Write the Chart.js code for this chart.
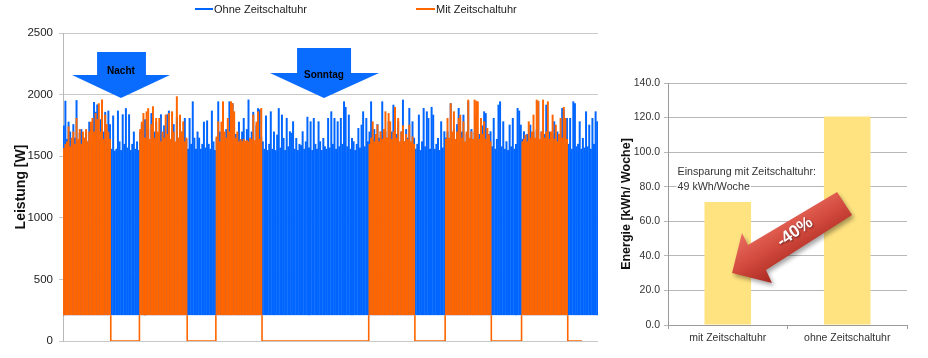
<!DOCTYPE html>
<html><head><meta charset="utf-8">
<script src="https://cdn.jsdelivr.net/npm/chart.js@4.4.1/dist/chart.umd.min.js"></script>
<style>
html,body{margin:0;padding:0;background:#fff;}
#wrap{position:relative;width:928px;height:358px;overflow:hidden;font-family:"Liberation Sans",Arial,sans-serif;}
canvas{position:absolute;top:0;}
#c1{left:0}
#c2{left:600px}
.lgl{position:absolute;top:8px;height:2px;}
.lgt{position:absolute;top:2px;font-size:11px;line-height:14px;color:#222;white-space:nowrap;}
</style></head><body>
<div id="wrap">
<canvas id="c1" width="605" height="358"></canvas>
<canvas id="c2" width="328" height="358"></canvas>
<div class="lgl" style="left:195px;width:18px;background:#0066ff"></div>
<div class="lgt" style="left:214px">Ohne Zeitschaltuhr</div>
<div class="lgl" style="left:416px;width:19px;background:#ff6600"></div>
<div class="lgt" style="left:436px">Mit Zeitschaltuhr</div>
</div>
<script>
// ---- Leistung, halbstündliche Spitzenwerte [W] über eine Woche ----
const ohneWatt = [
 1750,1950,1640,1780,1700,1600,1760,1650,1955,1620,1690,1720,1600,1650,1700,1620,1780,1600,1750,1940,1860,1920,1640,1800,1890,1700,1860,1620,1870,1760,
 1560,1830,1545,1560,1870,1620,1550,1840,1600,1890,1570,1840,1550,1600,1700,1560,1620,1550,
 1700,1760,1620,1800,1650,1720,1600,1850,1640,1700,1780,1620,1690,1840,1600,1750,1660,1840,1870,1620,1700,1760,1600,1820,1650,1800,1700,1620,1810,1640,
 1560,1810,1600,1945,1650,1560,1700,1650,1560,1600,1780,1570,1790,1600,1560,1870,1620,1550,
 1650,1945,1700,1620,1890,1640,1720,1600,1945,1700,1930,1620,1680,1600,1780,1640,1700,1810,1600,1720,1960,1640,1700,1860,1600,1750,1890,1880,1660,
 1620,1560,1830,1550,1600,1864,1560,1700,1550,1675,1890,1570,1837,1648,1550,1810,1580,1702,1690,1783,1560,1648,1550,1600,1590,1702,1560,1620,1820,1570,1783,1550,1810,1600,1560,1783,1621,1550,1648,1580,1560,1810,1570,1864,1600,1810,1560,1783,1580,1810,1600,1945,1900,1580,1837,1560,1648,1621,1550,1600,1729,1570,1756,1864,1580,1810,1621,
 1700,1945,1640,1720,1600,1760,1650,1700,1945,1620,1700,1650,1783,1600,1700,1918,1640,1680,1783,1600,1700,1959,1620,1720,1650,1891,1600,1783,1650,
 1560,1600,1837,1550,1620,1891,1580,1864,1810,1560,1900,1837,1560,1600,1648,1550,1783,1570,1702,
 1650,1700,1620,1930,1640,1720,1600,1760,1891,1620,1700,1837,1600,1680,1945,1640,1720,1600,1700,1837,1640,1680,1600,1750,1864,1850,1620,1680,1702,
 1580,1810,1560,1640,1918,1945,1580,1783,1560,1621,1550,1756,1580,1810,1560,1600,1891,1870,1756,
 1640,1702,1600,1680,1620,1756,1600,1700,1640,1720,1945,1620,1700,1640,1680,1918,1600,1700,1620,1680,1783,1600,1700,1640,1680,1891,1880,1620,1810,
 1600,1810,1560,1945,1930,1580,1600,1783,1560,1648,1570,1864,1580,1756,1560,1810,1600,1864,1783
];
const mitWatt = [
 1567,1600,1620,1742,1580,1650,1700,1600,1810,1640,1720,1600,1700,1650,1720,1620,1700,1780,1810,1700,1850,1800,1930,1700,1960,1640,1837,1760,1700,1640,
 0,0,0,0,0,0,0,0,0,0,0,0,0,0,0,0,0,0,
 1720,1780,1850,1650,1864,1890,1640,1760,1905,1650,1810,1700,1810,1620,1700,1650,1837,1680,1850,1640,1864,1700,1620,1986,1650,1837,1700,1783,1620,1650,
 0,0,0,0,0,0,0,0,0,0,0,0,0,0,0,0,0,0,
 1660,1783,1620,1780,1945,1700,1650,1810,1700,1945,1930,1864,1650,1700,1620,1640,1621,1640,1625,1630,1620,1650,1640,1837,1630,1780,1864,1640,1891,
 0,0,0,0,0,0,0,0,0,0, 0,0,0,0,0,0,0,0,0,0, 0,0,0,0,0,0,0,0,0,0, 0,0,0,0,0,0,0,0,0,0, 0,0,0,0,0,0,0,0,0,0, 0,0,0,0,0,0,0,0,0,0, 0,0,0,0,0,0,0,
 1600,1650,1783,1620,1680,1756,1620,1700,1640,1720,1864,1650,1850,1783,1640,1700,1900,1650,1810,1620,1700,1750,1620,1680,1640,1756,1620,1660,1600,
 0,0,0,0,0,0,0,0,0,0,0,0,0,0,0,0,0,0,0,
 1640,1810,1650,1930,1700,1864,1640,1700,1810,1837,1650,1783,1620,1700,1959,1650,1700,1640,1959,1950,1945,1640,1810,1680,1783,1640,1729,1675,1620,
 0,0,0,0,0,0,0,0,0,0,0,0,0,0,0,0,0,0,0,
 1620,1640,1675,1620,1783,1650,1700,1837,1650,1959,1950,1640,1700,1959,1650,1700,1945,1640,1700,1837,1640,1756,1620,1680,1810,1650,1900,1810,1640,
 0,0,0,0,0,0,0,0,0,
 null,null,null,null,null,null,null,null,null,null
];
const grundlastWatt = 210;          // unterer Rand des Schaltzyklus
const leistungAchse = [0, 2500];
const leistungSchritt = 500;

// ---- Energie pro Woche ----
const energieKategorien = ['mit Zeitschaltuhr', 'ohne Zeitschaltuhr'];
const energieWerte = [71.2, 120.6];
const energieAchse = [0, 140];
const energieSchritt = 20;

Chart.defaults.font.family = '"Liberation Sans", Arial, sans-serif';
Chart.defaults.color = '#333';

const slots = ohneWatt.map((_, i) => i);

// Aus-Phasen (0 W) der Mit-Zeitschaltuhr-Kurve als Linie
const mitAus = [];
for (let i = 0; i < mitWatt.length; i++) {
  if (mitWatt[i] === 0) {
    let j = i;
    while (j + 1 < mitWatt.length && mitWatt[j + 1] === 0) j++;
    if (i > 0 && mitWatt[i - 1] > 0) mitAus.push({x: i - 0.5, y: grundlastWatt});
    mitAus.push({x: i - 0.5, y: 0}, {x: j + 0.5, y: 0});
    if (j + 1 < mitWatt.length && mitWatt[j + 1] > 0) mitAus.push({x: j + 0.5, y: grundlastWatt});
    mitAus.push({x: j + 0.5, y: null});
    i = j;
  }
}

const pfeilNotizen = [
  {text: 'Nacht', schaft: [20.9, 51.6], spitze: [5.2, 66.7], tip: 35.9, oben: 2346, mitte: 2159, unten: 1972, textX: 35.9, textY: 2192},
  {text: 'Sonntag', schaft: [146.5, 180.4], spitze: [129.5, 198], tip: 163.4, oben: 2378, mitte: 2175, unten: 1972, textX: 163.4, textY: 2159}
];

const pfeilPlugin = {
  id: 'pfeile',
  afterDatasetsDraw(chart) {
    const {ctx} = chart, x = chart.scales.x, y = chart.scales.y;
    ctx.save();
    for (const p of pfeilNotizen) {
      const xl = x.getPixelForValue(p.schaft[0]), xr = x.getPixelForValue(p.schaft[1]);
      const tl = x.getPixelForValue(p.spitze[0]), tr = x.getPixelForValue(p.spitze[1]);
      const tx = x.getPixelForValue(p.tip);
      const yT = y.getPixelForValue(p.oben), yM = y.getPixelForValue(p.mitte), yB = y.getPixelForValue(p.unten);
      ctx.beginPath();
      ctx.moveTo(xl, yT); ctx.lineTo(xr, yT); ctx.lineTo(xr, yM); ctx.lineTo(tr, yM);
      ctx.lineTo(tx, yB); ctx.lineTo(tl, yM); ctx.lineTo(xl, yM); ctx.closePath();
      ctx.fillStyle = '#0a6cff';
      ctx.fill();
      ctx.fillStyle = '#000';
      ctx.font = 'bold 10px "Liberation Sans", Arial, sans-serif';
      ctx.textAlign = 'center'; ctx.textBaseline = 'middle';
      ctx.fillText(p.text, x.getPixelForValue(p.textX), y.getPixelForValue(p.textY));
    }
    ctx.restore();
  }
};

new Chart(document.getElementById('c1'), {
  type: 'bar',
  data: {
    labels: slots,
    datasets: [
      {label: 'Ohne Zeitschaltuhr', data: ohneWatt.map(v => v == null ? null : [grundlastWatt, v]),
       backgroundColor: '#0066ff', barPercentage: 1.25, categoryPercentage: 1, grouped: false, order: 2},
      {label: 'Mit Zeitschaltuhr', data: mitWatt.map(v => v > 0 ? [grundlastWatt, v] : null),
       backgroundColor: '#ff6600', barPercentage: 1.25, categoryPercentage: 1, grouped: false, order: 1},
      {type: 'line', label: 'Mit Zeitschaltuhr (aus)', data: mitAus, xAxisID: 'xl',
       borderColor: '#ff6600', borderWidth: 1.6, pointRadius: 0, fill: false, spanGaps: false, order: 0}
    ]
  },
  options: {
    responsive: false, animation: false,
    layout: {padding: {top: 33, right: 7, bottom: 17, left: 0}},
    plugins: {legend: {display: false}, tooltip: {enabled: false}},
    scales: {
      x: {display: false},
      xl: {type: 'linear', display: false, offset: false, grace: 0, bounds: 'data', min: -0.5, max: ohneWatt.length - 0.5, grid: {offset: false}},
      y: {
        min: leistungAchse[0], max: leistungAchse[1],
        ticks: {stepSize: leistungSchritt, color: '#222', font: {size: 11.5}, padding: 6, callback: v => String(v)},
        grid: {color: '#c8c8c8', tickLength: 4},
        border: {color: '#b8b8b8'},
        title: {display: true, text: 'Leistung [W]', color: '#111', font: {size: 14, weight: 'bold'}, padding: {top: 13, bottom: 0}},
        afterFit(s) { s.width = 63; }
      }
    }
  },
  plugins: [pfeilPlugin]
});

// ---- rechtes Diagramm ----
const rotPfeil = [[0.036, 30.1], [0.119, 53.2], [0.169, 46.3], [0.915, 76.9], [1.04, 63.6], [0.32, 31.8], [0.37, 24.3]];
const notizZeilen = [{text: 'Einsparung mit Zeitschaltuhr:', v: 88.5}, {text: '49 kWh/Woche', v: 79.8}];

const energiePlugin = {
  id: 'energieNotiz',
  afterDatasetsDraw(chart) {
    const {ctx} = chart, x = chart.scales.x, y = chart.scales.y;
    ctx.save();
    ctx.font = '10.7px "Liberation Sans", Arial, sans-serif';
    ctx.textAlign = 'left'; ctx.textBaseline = 'middle';
    const lx = x.getPixelForValue(-0.42);
    for (const z of notizZeilen) {
      const yy = y.getPixelForValue(z.v);
      const w = ctx.measureText(z.text).width;
      ctx.fillStyle = '#fff';
      ctx.fillRect(lx - 1, yy - 6, w + 2, 12);
      ctx.fillStyle = '#333';
      ctx.fillText(z.text, lx, yy);
    }
    // roter Pfeil
    const pts = rotPfeil.map(([a, b]) => [x.getPixelForValue(a), y.getPixelForValue(b)]);
    const g = ctx.createLinearGradient(pts[1][0], pts[1][1], pts[6][0], pts[6][1]);
    g.addColorStop(0, '#ea6e60'); g.addColorStop(0.5, '#d2493d'); g.addColorStop(1, '#a9281f');
    ctx.beginPath();
    pts.forEach((p, i) => i ? ctx.lineTo(p[0], p[1]) : ctx.moveTo(p[0], p[1]));
    ctx.closePath();
    ctx.shadowColor = 'rgba(0,0,0,0.35)'; ctx.shadowBlur = 4; ctx.shadowOffsetX = 2; ctx.shadowOffsetY = 3;
    ctx.fillStyle = g;
    ctx.fill();
    ctx.shadowColor = 'rgba(0,0,0,0.45)'; ctx.shadowBlur = 2; ctx.shadowOffsetX = 1; ctx.shadowOffsetY = 1;
    ctx.translate(x.getPixelForValue(0.563), y.getPixelForValue(53.8));
    ctx.rotate(-35 * Math.PI / 180);
    ctx.font = 'bold 17px "Liberation Sans", Arial, sans-serif';
    ctx.textAlign = 'center';
    ctx.fillStyle = '#fff';
    ctx.fillText('-40%', 0, 0);
    ctx.restore();
  }
};

new Chart(document.getElementById('c2'), {
  type: 'bar',
  data: {
    labels: energieKategorien,
    datasets: [{label: 'Energie', data: energieWerte, backgroundColor: '#ffe380', barPercentage: 0.39, categoryPercentage: 1}]
  },
  options: {
    responsive: false, animation: false,
    layout: {padding: {top: 83, right: 21, bottom: 0, left: 0}},
    plugins: {legend: {display: false}, tooltip: {enabled: false}},
    scales: {
      x: {
        grid: {display: true, drawOnChartArea: false, drawTicks: true, tickLength: 4, offset: true, color: '#9a9a9a'},
        border: {color: '#9a9a9a'},
        ticks: {color: '#333', font: {size: 10.5}, padding: 3},
        afterFit(s) { s.height = 33; }
      },
      y: {
        min: energieAchse[0], max: energieAchse[1],
        ticks: {stepSize: energieSchritt, color: '#333', font: {size: 10.5}, padding: 4, callback: v => v.toFixed(1)},
        grid: {color: '#b8b8b8', tickLength: 4},
        border: {color: '#9a9a9a'},
        title: {display: true, text: 'Energie [kWh/ Woche]', color: '#111', font: {size: 12.5, weight: 'bold'}, padding: {top: 19, bottom: 0}},
        afterFit(s) { s.width = 68; }
      }
    }
  },
  plugins: [energiePlugin]
});
</script>
</body></html>
